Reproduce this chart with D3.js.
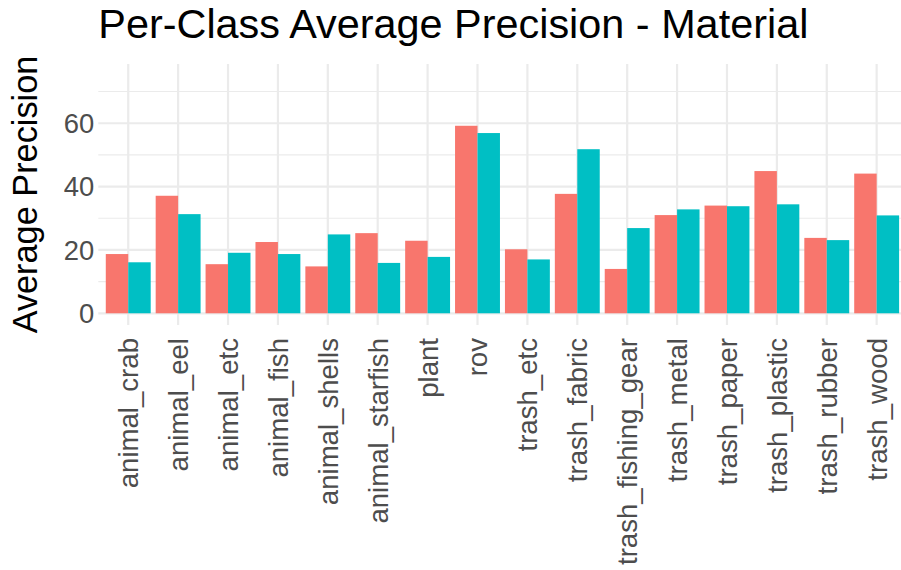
<!DOCTYPE html>
<html>
<head>
<meta charset="utf-8">
<script src="https://cdn.jsdelivr.net/npm/d3@7"></script>
<style>
  body { margin: 0; background: #fff; }
  text { font-family: "Liberation Sans", Arial, sans-serif; }
</style>
</head>
<body>
<script>
// data

var classes = ["animal_crab", "animal_eel", "animal_etc", "animal_fish", "animal_shells",
  "animal_starfish", "plant", "rov", "trash_etc", "trash_fabric", "trash_fishing_gear",
  "trash_metal", "trash_paper", "trash_plastic", "trash_rubber", "trash_wood"];

var seriesNames = ["model_1", "model_2"];

var series1 = [18.7, 37.1, 15.5, 22.5, 14.8, 25.3, 22.9, 59.2, 20.2, 37.7, 14.0, 31.0, 34.0, 44.9, 23.8, 44.1];
var series2 = [16.1, 31.3, 19.1, 18.7, 24.9, 15.9, 17.8, 56.9, 17.0, 51.8, 26.9, 32.8, 33.8, 34.4, 23.1, 30.9];

var majorTicks = [0, 20, 40, 60];
var minorTicks = [10, 30, 50, 70];

var colors = ["#F8766D", "#00BFC4"];

var container_width = 901;
var container_height = 570;

var panel = { left: 98.3, right: 906.6, top: 64, bottom: 325 };

var svg = d3.select("body").append("svg")
  .attr("id", "container")
  .attr("width", container_width)
  .attr("height", container_height);

// scales, ggplot style expansion: 0.6 units each side of the discrete axis

var step = (panel.right - panel.left) / (classes.length + 0.2);

var xScale = d3.scaleBand()
  .domain(classes)
  .range([panel.left + 0.1 * step, panel.right - 0.1 * step])
  .paddingOuter(0)
  .paddingInner(0);

var yScale = d3.scaleLinear()
  .domain([-3.7, 78.7])
  .range([panel.bottom, panel.top]);

var xSub = d3.scaleBand()
  .domain(seriesNames)
  .range([0, xScale.bandwidth() * 0.9]);

// grid lines

var grid = svg.append("g").attr("class", "grid");

grid.selectAll(".minor")
  .data(minorTicks)
  .enter()
  .append("line")
  .attr("x1", panel.left)
  .attr("x2", panel.right)
  .attr("y1", function(d) { return yScale(d); })
  .attr("y2", function(d) { return yScale(d); })
  .attr("stroke", "#EBEBEB")
  .attr("stroke-width", 1.1);

grid.selectAll(".major")
  .data(majorTicks)
  .enter()
  .append("line")
  .attr("x1", panel.left)
  .attr("x2", panel.right)
  .attr("y1", function(d) { return yScale(d); })
  .attr("y2", function(d) { return yScale(d); })
  .attr("stroke", "#EBEBEB")
  .attr("stroke-width", 2.2);

grid.selectAll(".vert")
  .data(classes)
  .enter()
  .append("line")
  .attr("x1", function(d) { return xScale(d) + xScale.bandwidth() / 2; })
  .attr("x2", function(d) { return xScale(d) + xScale.bandwidth() / 2; })
  .attr("y1", panel.top)
  .attr("y2", panel.bottom)
  .attr("stroke", "#EBEBEB")
  .attr("stroke-width", 2.2);

// bars, dodged

var rows = classes.map(function(c, i) {
  return { cls: c, values: [series1[i], series2[i]] };
});

svg.append("g")
  .attr("class", "bars")
  .selectAll(".group")
  .data(rows)
  .enter()
  .append("g")
  .attr("transform", function(d) {
    return "translate(" + (xScale(d.cls) + xScale.bandwidth() * 0.05) + ",0)";
  })
  .selectAll("rect")
  .data(function(d) {
    return d.values.map(function(v, j) { return { name: seriesNames[j], value: v, j: j }; });
  })
  .enter()
  .append("rect")
  .attr("x", function(d) { return xSub(d.name); })
  .attr("width", xSub.bandwidth())
  .attr("y", function(d) { return yScale(d.value); })
  .attr("height", function(d) { return yScale(0) - yScale(d.value); })
  .attr("fill", function(d) { return colors[d.j]; });

// y axis labels

svg.append("g")
  .selectAll("text")
  .data(majorTicks)
  .enter()
  .append("text")
  .attr("x", panel.left - 4)
  .attr("y", function(d) { return yScale(d); })
  .attr("dy", "0.36em")
  .attr("text-anchor", "end")
  .attr("fill", "#4D4D4D")
  .style("font-size", "27.4px")
  .text(function(d) { return d; });

// x axis labels, rotated

svg.append("g")
  .selectAll("text")
  .data(classes)
  .enter()
  .append("text")
  .attr("transform", function(d) {
    return "translate(" + (xScale(d) + xScale.bandwidth() / 2) + "," + (panel.bottom + 13) + ") rotate(-90)";
  })
  .attr("dy", "0.36em")
  .attr("text-anchor", "end")
  .attr("fill", "#4D4D4D")
  .style("font-size", "27.6px")
  .text(function(d) { return d; });

// axis title and chart title

svg.append("text")
  .attr("transform", "translate(36.7," + (panel.top + panel.bottom) / 2 + ") rotate(-90)")
  .attr("text-anchor", "middle")
  .attr("fill", "#000")
  .style("font-size", "34.3px")
  .text("Average Precision");

svg.append("text")
  .attr("x", panel.left)
  .attr("y", 38)
  .attr("fill", "#000")
  .style("font-size", "41.4px")
  .text("Per-Class Average Precision - Material");
</script>
</body>
</html>
